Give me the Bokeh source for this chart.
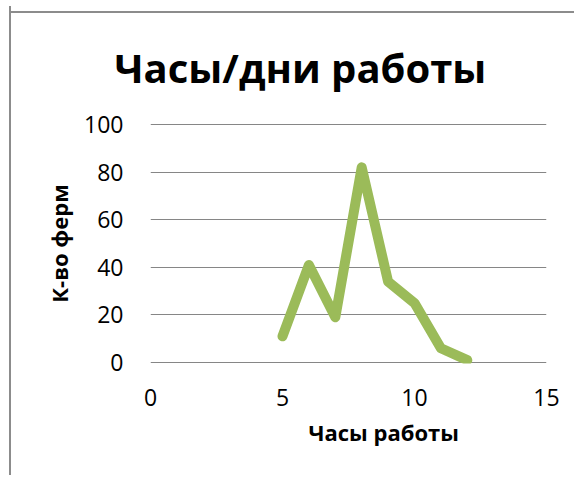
from bokeh.plotting import figure
from bokeh.models import Range1d, FixedTicker, Title
from bokeh.embed import file_html
from bokeh.resources import INLINE

# Data
hours = [5, 6, 7, 8, 9, 10, 11, 12]
farms = [11, 41, 19, 82, 34, 25, 6, 1]
x_ticks = [0, 5, 10, 15]
y_ticks = [0, 20, 40, 60, 80, 100]
title_text = "Часы/дни работы"
x_label = "Часы работы"
y_label = "К-во ферм"

FONT = "Open Sans"

p = figure(width=565, height=469, output_backend="svg", toolbar_location=None,
           x_range=Range1d(0, 15), y_range=Range1d(-0.4, 100.4),
           min_border_left=139, min_border_right=30, min_border_top=117, min_border_bottom=112)
p.styles = {"margin-left": "9px", "margin-top": "6px",
            "border-left": "2px solid #8c8c8c",
            "background-image": "linear-gradient(#8c8c8c, #8c8c8c)",
            "background-repeat": "no-repeat",
            "background-size": "100% 2px",
            "background-position": "0px 5px"}
p.border_fill_color = None
p.background_fill_color = None

p.line(hours, farms, line_color="#9BBB59", line_width=10, line_cap="round", line_join="round")

p.outline_line_color = None
p.xgrid.grid_line_color = None
p.ygrid.grid_line_color = "#868686"
p.ygrid.grid_line_width = 1

for ax in (p.xaxis[0], p.yaxis[0]):
    ax.axis_line_color = None
    ax.major_tick_line_color = None
    ax.minor_tick_line_color = None
    ax.major_label_text_font = FONT
    ax.major_label_text_font_size = "23px"
    ax.major_label_text_color = "#000000"

p.xaxis[0].ticker = FixedTicker(ticks=x_ticks)
p.yaxis[0].ticker = FixedTicker(ticks=y_ticks)
p.xaxis[0].major_label_standoff = 19
p.yaxis[0].major_label_standoff = 21

p.yaxis[0].axis_label = y_label
p.yaxis[0].axis_label_text_font = FONT
p.yaxis[0].axis_label_text_font_style = "bold"
p.yaxis[0].axis_label_text_font_size = "22px"
p.yaxis[0].axis_label_text_color = "#000000"
p.yaxis[0].axis_label_standoff = 7

xt = Title(text=x_label, align="left", offset=158, text_font=FONT, text_font_style="bold",
           text_font_size="22px", text_color="#000000", standoff=12)
p.add_layout(xt, "below")

tt = Title(text=title_text, align="left", offset=-36, text_font=FONT, text_font_style="bold",
           text_font_size="40px", text_color="#000000", standoff=57)
p.add_layout(tt, "above")

open("out.html", "w").write(file_html(p, INLINE))
